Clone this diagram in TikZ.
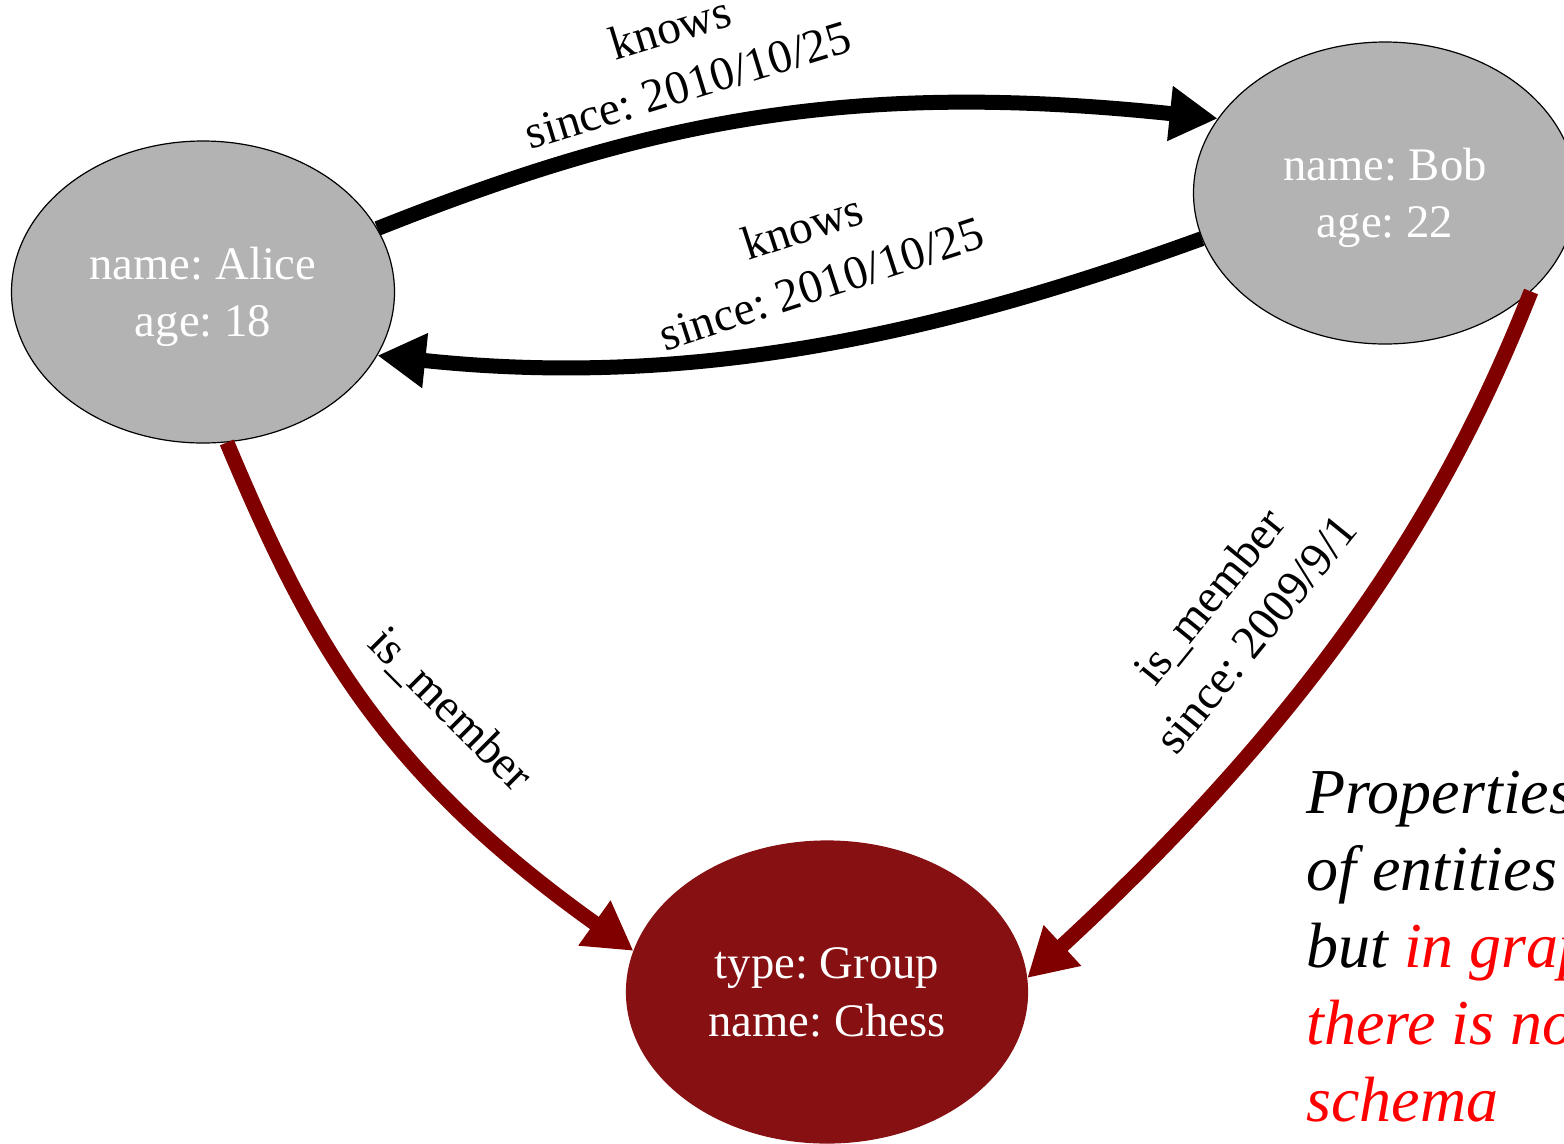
\documentclass[tikz,border=0pt]{standalone}
\usepackage{fontspec}
\setmainfont{Liberation Serif}
\frenchspacing
\usetikzlibrary{arrows.meta,shapes.geometric}
\definecolor{nodegray}{RGB}{179,179,179}
\definecolor{groupred}{RGB}{135,16,18}
\definecolor{memberred}{RGB}{128,0,0}
\begin{document}
\begin{tikzpicture}[x=0.75pt,y=-0.75pt,
  entity/.style={ellipse, draw=black, line width=0.9pt, fill=nodegray, text=white,
    minimum width=287.25pt, minimum height=226.5pt, inner sep=0pt, align=center,
    text depth=-4pt, font=\fontsize{35}{43}\selectfont},
  group/.style={entity, draw=groupred, fill=groupred,
    minimum width=300.75pt, minimum height=226.5pt},
  rel/.style={line width=11.25pt, -{Triangle[length=36pt,width=39pt]}},
  knowsrel/.style={rel, draw=black},
  memberrel/.style={rel, draw=memberred},
  edgelabel/.style={align=center, font=\fontsize{35.5}{45}\selectfont, inner sep=0pt},
  note/.style={align=left, font=\fontsize{48}{57.75}\selectfont\itshape,
    inner sep=0pt, anchor=base west}]
  \useasboundingbox (0,0) rectangle (1564,1143);
  \clip (0,0) rectangle (1564,1143);

  % entities
  \node[entity] (alice) at (203,292) {name: Alice\\age: 18};
  \node[entity] (bob) at (1385,193) {name: Bob\\age: 22};
  \node[group] (chess) at (827,992) {type: Group\\name: Chess};

  % relationships
  \draw[knowsrel] (alice.20) .. controls (650,120) and (850,80) .. (bob.156);
  \draw[knowsrel] (bob.194) .. controls (950,330) and (700,390) .. (alice.-20);
  \draw[memberrel] (alice.-81) .. controls (310,640) and (380,770) .. (chess.168);
  \draw[memberrel] (bob.-34) .. controls (1460,470) and (1350,680) .. (chess.4);

  % relationship properties
  \node[edgelabel, rotate=17] (k1) at (679,56) {knows\\since: 2010/10/25};
  \node[edgelabel, rotate=18] (k2) at (812,255) {knows\\since: 2010/10/25};
  \node[edgelabel, rotate=-45] (m1) at (450,710) {is\_member};
  \node[edgelabel, rotate=51] (m2) at (1232,615) {is\_member\\since: 2009/9/1};

  % side note
  \node[note] (note) at (1306,1121) {Properties\\of entities\\but \textcolor{red}{in graph}\\\textcolor{red}{there is no}\\\textcolor{red}{schema}};
\end{tikzpicture}
\end{document}
